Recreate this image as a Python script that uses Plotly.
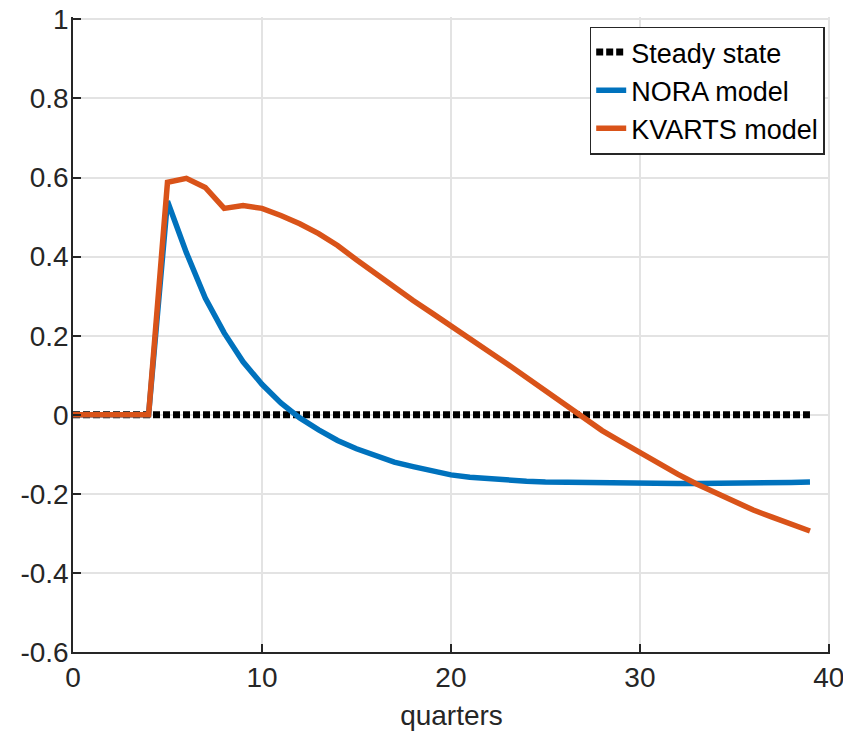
import plotly.graph_objects as go

quarters = list(range(40))
steady_state = [0.0] * 40
nora = [0, 0, 0, 0, 0, 0.54, 0.41, 0.295, 0.207, 0.134, 0.077, 0.03, -0.008, -0.038,
        -0.065, -0.086, -0.104, -0.12, -0.131, -0.142, -0.152, -0.158, -0.162, -0.165,
        -0.168, -0.170, -0.171, -0.172, -0.173, -0.174, -0.174, -0.174, -0.174, -0.174,
        -0.174, -0.173, -0.172, -0.171, -0.171, -0.170]
kvarts = [0, 0, 0, 0, 0, 0.588, 0.598, 0.575, 0.522, 0.529, 0.522, 0.504, 0.483, 0.458,
          0.428, 0.392, 0.357, 0.323, 0.289, 0.257, 0.226, 0.193, 0.16, 0.128, 0.094,
          0.06, 0.026, -0.008, -0.04, -0.068, -0.096, -0.124, -0.15, -0.175, -0.197,
          -0.22, -0.241, -0.259, -0.277, -0.294]

x_ticks = [0, 10, 20, 30, 40]
y_ticks = [-0.6, -0.4, -0.2, 0, 0.2, 0.4, 0.6, 0.8, 1]
y_tick_text = ["-0.6", "-0.4", "-0.2", "0", "0.2", "0.4", "0.6", "0.8", "1"]

fig = go.Figure()
fig.add_trace(go.Scatter(x=quarters, y=steady_state, mode="lines", name="Steady state",
                         line=dict(color="black", width=7, dash="7px,3px")))
fig.add_trace(go.Scatter(x=quarters, y=nora, mode="lines", name="NORA model",
                         line=dict(color="#0072BD", width=5.5)))
fig.add_trace(go.Scatter(x=quarters, y=kvarts, mode="lines", name="KVARTS model",
                         line=dict(color="#D95319", width=5.5)))

ff = "Liberation Sans, Arial, sans-serif"
axis_font = dict(family=ff, size=28, color="#262626")
fig.update_layout(
    width=851, height=741,
    margin=dict(l=65, r=29, t=9, b=97),
    plot_bgcolor="white", paper_bgcolor="white",
    font=axis_font,
    showlegend=True,
    legend=dict(x=0.993, y=0.985, xanchor="right", yanchor="top",
                bgcolor="white", bordercolor="#262626", borderwidth=1.5,
                font=dict(family=ff, size=27, color="black"),
                tracegroupgap=0, itemwidth=30),
    xaxis=dict(range=[0, 40.06], tickvals=x_ticks, showgrid=True, gridcolor="#e3e3e3",
               gridwidth=1.5, zeroline=False, showline=True, linecolor="#262626",
               linewidth=1.5, ticks="inside", ticklen=8, tickcolor="#262626",
               tickwidth=1.5, ticklabelstandoff=0, automargin=False,
               ticklabeloverflow="allow",
               title=dict(text="quarters", font=axis_font, standoff=13)),
    yaxis=dict(range=[-0.6, 1.006], tickvals=y_ticks, ticktext=y_tick_text, showgrid=True,
               gridcolor="#e3e3e3", gridwidth=1.5, zeroline=False, showline=True,
               linecolor="#262626", linewidth=1.5, ticks="inside", ticklen=8,
               tickcolor="#262626", tickwidth=1.5, ticklabelstandoff=-3, automargin=False,
               ticklabeloverflow="allow"),
)

fig.write_html("out.html")
